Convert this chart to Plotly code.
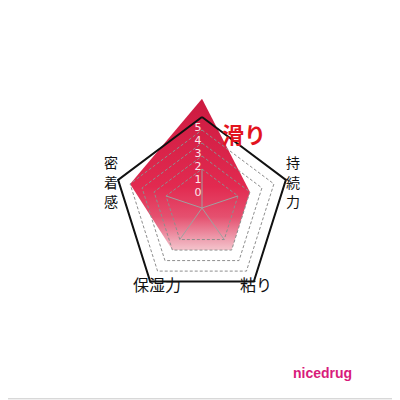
import numpy as np
import plotly.graph_objects as go

# radar chart: 5 properties, scale 0-5 (the top one sticks out past 5)
axes_labels = ["滑り", "持続力", "粘り", "保湿力", "密着感"]
scores = [6.4, 2, 2, 2, 4]
ring_levels = [1, 2, 3, 4]
outer_level = 5
tick_labels = ["0", "1", "2", "3", "4", "5"]

offset = 2  # value 0 is not at the centre
angles = np.deg2rad(90 - 72 * np.arange(len(axes_labels)))


def ring(values):
    r = np.asarray(values, dtype=float) + offset
    x = r * np.cos(angles)
    y = r * np.sin(angles)
    return np.append(x, x[0]), np.append(y, y[0])


fig = go.Figure()

# filled score polygon, vertical gradient (dark red on top, pale pink at bottom)
fx, fy = ring(scores)
fig.add_trace(go.Scatter(
    x=fx, y=fy, mode="lines", fill="toself",
    line=dict(width=0, color="rgba(0,0,0,0)"),
    fillgradient=dict(type="vertical",
                      colorscale=[[0, "#f4c4cc"], [0.06, "#efa6b5"],
                                  [0.22, "#e5506f"], [0.42, "#e22a50"],
                                  [1, "#cc1a40"]]),
    hoverinfo="skip"))

# dashed inner rings
for lv in ring_levels:
    gx, gy = ring([lv] * len(axes_labels))
    fig.add_trace(go.Scatter(x=gx, y=gy, mode="lines",
                             line=dict(color="#8e8e8e", width=1, dash="3px,2px"),
                             hoverinfo="skip"))

# short spokes from centre to the first ring
sx, sy = ring([ring_levels[0]] * len(axes_labels))
for i in range(len(axes_labels)):
    fig.add_trace(go.Scatter(x=[0, sx[i]], y=[0, sy[i]], mode="lines",
                             line=dict(color="#a0a0a0", width=1),
                             hoverinfo="skip"))

# outer black pentagon
ox, oy = ring([outer_level] * len(axes_labels))
fig.add_trace(go.Scatter(x=ox, y=oy, mode="lines",
                         line=dict(color="#111111", width=2),
                         hoverinfo="skip"))

# scale numbers along the top axis
tick_vals = np.arange(len(tick_labels))
fig.add_trace(go.Scatter(
    x=[-0.32] * len(tick_labels), y=1.15 + 1.0 * tick_vals,
    mode="text", text=tick_labels,
    textfont=dict(color="#fbe6ea", size=11, family="DejaVu Sans"),
    hoverinfo="skip"))

jp = "Noto Sans CJK JP"
black = "#111111"
# horizontal labels
fig.add_annotation(x=0.59, y=0.7325, xref="paper", yref="paper",
                   text="<b>滑り</b>", showarrow=False,
                   font=dict(family=jp, size=22, color="#e2141e"))
fig.add_annotation(x=0.3075, y=0.275, xref="paper", yref="paper",
                   text="保湿力", showarrow=False,
                   font=dict(family=jp, size=16, color=black))
fig.add_annotation(x=0.62, y=0.275, xref="paper", yref="paper",
                   text="粘り", showarrow=False,
                   font=dict(family=jp, size=16, color=black))

# vertical labels, one character per annotation
for name, xp in [("持続力", 0.732), ("密着感", 0.2375)]:
    for k, ch in enumerate(name):
        fig.add_annotation(x=xp, y=0.614 - k * 0.048, xref="paper", yref="paper",
                           text=ch, showarrow=False, borderpad=0,
                           font=dict(family=jp, size=14, color=black))

fig.add_annotation(x=0.866, y=0.0625, xref="paper", yref="paper",
                   text="<b>nicedrug</b>", showarrow=False,
                   font=dict(family="Liberation Sans", size=14, color="#d81b7b"))

# thin grey frame (right and bottom edges of the picture)
fig.add_shape(type="line", xref="paper", yref="paper", x0=0.977, x1=0.977,
              y0=0.023, y1=1, line=dict(color="#c8c8c8", width=1))
fig.add_shape(type="line", xref="paper", yref="paper", x0=0, x1=0.977,
              y0=0.023, y1=0.023, line=dict(color="#c8c8c8", width=1))

xs, ys = 12.6, 13.0  # pixels per unit
cx, cy = 194, 200    # centre in figure pixels
fig.update_xaxes(range=[-cx / xs, (400 - cx) / xs], visible=False, fixedrange=True)
fig.update_yaxes(range=[-(400 - cy) / ys, cy / ys], visible=False, fixedrange=True)
fig.update_layout(width=400, height=400, margin=dict(l=0, r=0, t=0, b=0),
                  paper_bgcolor="white", plot_bgcolor="white",
                  showlegend=False)

fig.write_html("out.html")
